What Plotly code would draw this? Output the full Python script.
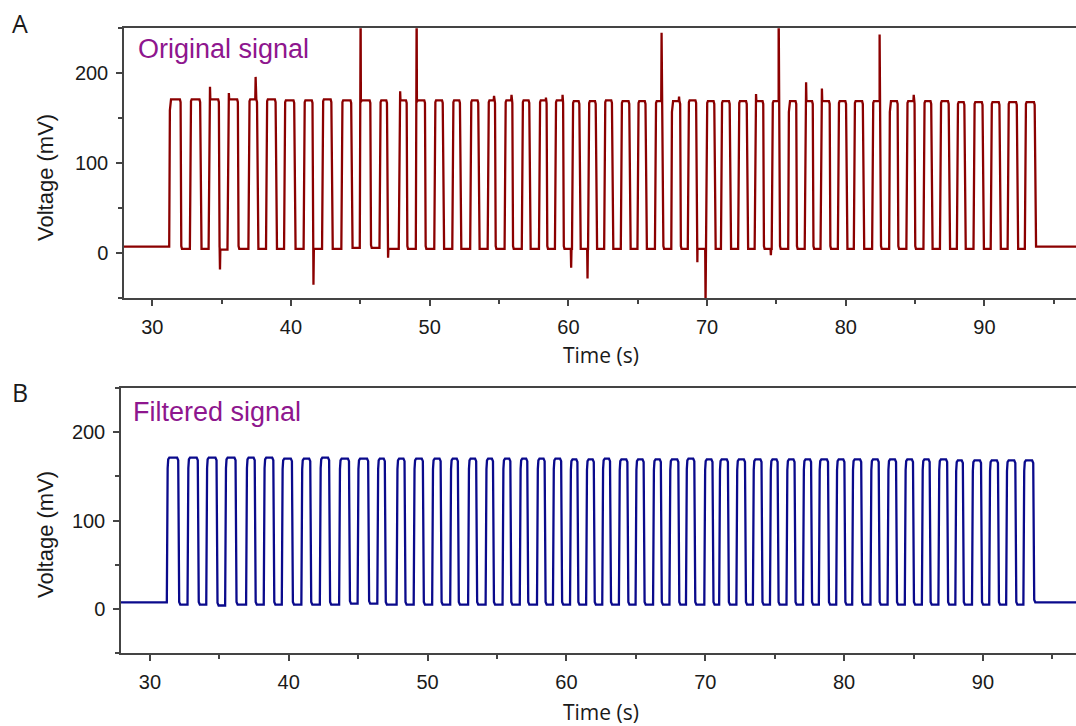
import numpy as np
import plotly.graph_objects as go

# ---------------- data ----------------
# rise / fall times (s) of each pulse
rises = [31.22, 32.71, 34.06, 35.42, 36.93, 38.20, 39.50, 40.91, 42.24, 43.63,
         44.96, 46.38, 47.77, 49.00, 50.33, 51.63, 52.92, 54.18, 55.40, 56.64,
         57.88, 59.03, 60.26, 61.42, 62.58, 63.78, 64.98, 66.24, 67.42, 68.61,
         69.93, 71.00, 72.24, 73.43, 74.66, 75.85, 77.04, 78.18, 79.43, 80.58,
         81.90, 83.13, 84.37, 85.60, 86.79, 88.01, 89.21, 90.45, 91.67, 92.91]
falls = [32.04, 33.45, 34.80, 36.17, 37.55, 38.89, 40.23, 41.55, 42.91, 44.34,
         45.72, 46.92, 48.34, 49.66, 50.94, 52.18, 53.50, 54.71, 55.96, 57.18,
         58.43, 59.62, 60.79, 61.97, 63.14, 64.39, 65.56, 66.80, 68.06, 69.21,
         70.52, 71.63, 72.86, 74.05, 75.21, 76.43, 77.62, 78.84, 80.02, 81.23,
         82.49, 83.74, 84.96, 86.16, 87.42, 88.55, 89.86, 91.08, 92.33, 93.62]
# plateau level of each pulse (mV)
highs = [171, 171, 171, 171, 171, 171, 170, 170, 171, 170,
         170, 170, 170, 170, 170, 170, 170, 170, 170, 170,
         170, 170, 169, 169, 170, 169, 169, 169, 169, 170,
         169, 169, 169, 169, 169, 169, 169, 169, 169, 169,
         169, 169, 169, 169, 169, 168, 168, 168, 168, 168]
# level after each pulse (mV)
lows = [5, 5, 4, 5, 5, 5, 5, 5, 5, 6,
        6, 5, 5, 5, 5, 5, 5, 5, 5, 5,
        5, 5, 5, 5, 5, 5, 5, 5, 5, 5,
        5, 5, 5, 5, 5, 5, 5, 5, 5, 5,
        5, 5, 5, 5, 5, 5, 5, 5, 5, 7.5]
baseline_before = 7.5
t_begin, t_end = 27.0, 100.0

# artefact spikes of the original signal: time (s), peak value (mV)
spike_times = [34.16, 34.88, 35.52, 37.45, 41.62, 45.02, 47.00, 47.87, 49.06,
               54.64, 55.90, 58.38, 59.58, 60.20, 61.38, 66.72, 67.98, 69.30,
               69.89, 73.53, 74.60, 75.16, 77.14, 78.28, 82.44, 84.90]
spike_values = [185, -18, 178, 196, -35, 275, -5, 180, 275,
                175, 176, 173, 176, -16, -28, 245, 174, -10,
                -55, 177, -2, 275, 190, 183, 243, 176]

x_ticks = [30, 40, 50, 60, 70, 80, 90]
y_ticks = [0, 100, 200]


def square_wave(r_edge, f_edge, rnd):
    t = [t_begin]
    v = [baseline_before]
    prev = baseline_before
    for r, f, h, lo in zip(rises, falls, highs, lows):
        t += [r, r + r_edge * 0.6, r + r_edge, r + r_edge + rnd,
              f - rnd, f, f + f_edge, f + f_edge + rnd]
        v += [prev, h - 12, h - 2, h,
              h, h - 3, lo + 3, lo]
        prev = lo
    t.append(t_end)
    v.append(prev)
    return np.array(t), np.array(v, dtype=float)


t_orig, v_orig = square_wave(0.08, 0.05, 0.05)
extra_t, extra_v = [], []
for ts, vs in zip(spike_times, spike_values):
    for dt in (-0.025, 0.025):
        extra_t.append(ts + dt)
        extra_v.append(float(np.interp(ts + dt, t_orig, v_orig)))
    extra_t.append(ts)
    extra_v.append(vs)
all_t = np.concatenate([t_orig, extra_t])
all_v = np.concatenate([v_orig, extra_v])
order = np.argsort(all_t, kind="stable")
t_top, v_top = all_t[order], all_v[order]

t_bot, v_bot = square_wave(0.10, 0.07, 0.08)

# ---------------- figure ----------------
W, H = 1076, 726
RED = "#8B0000"
BLUE = "#0A0A8C"
PURPLE = "#8E168E"
AX = "#444444"
TICKFONT = dict(family="Liberation Sans, Arial", size=20, color="#1a1a1a")

fig = go.Figure()
fig.add_trace(go.Scatter(x=t_top, y=v_top, mode="lines",
                         line=dict(color=RED, width=2.3),
                         xaxis="x", yaxis="y", showlegend=False,
                         hoverinfo="skip"))
fig.add_trace(go.Scatter(x=t_bot, y=v_bot, mode="lines",
                         line=dict(color=BLUE, width=2.3),
                         xaxis="x2", yaxis="y2", showlegend=False,
                         hoverinfo="skip"))


def xax(domain, rng, anchor):
    return dict(domain=domain, range=rng, anchor=anchor,
                tickvals=x_ticks, ticks="outside", ticklen=6, tickwidth=1.5,
                tickcolor=AX, showline=True, linecolor=AX, linewidth=1.5,
                mirror=True, showgrid=False, zeroline=False,
                tickfont=TICKFONT, ticklabelstandoff=4,
                minor=dict(ticks="outside", ticklen=4, tickwidth=1.5,
                           tickcolor=AX, dtick=5, tick0=0, showgrid=False))


def yax(domain, anchor):
    return dict(domain=domain, range=[-50, 250], anchor=anchor,
                tickvals=y_ticks, ticks="outside", ticklen=6, tickwidth=1.5,
                tickcolor=AX, showline=True, linecolor=AX, linewidth=1.5,
                mirror=False, showgrid=False, zeroline=False,
                tickfont=TICKFONT, ticklabelstandoff=4,
                minor=dict(ticks="outside", ticklen=4, tickwidth=1.5,
                           tickcolor=AX, dtick=50, tick0=0, showgrid=False))


fig.update_layout(
    width=W, height=H,
    margin=dict(l=0, r=0, t=0, b=0),
    paper_bgcolor="white", plot_bgcolor="white",
    xaxis=xax([124 / W, 1.0], [27.96, 96.6], "y"),
    yaxis=yax([1 - 298.3 / H, 1 - 28.3 / H], "x"),
    xaxis2=xax([121 / W, 1.0], [27.92, 96.7], "y2"),
    yaxis2=yax([1 - 653.3 / H, 1 - 387.7 / H], "x2"),
)

ann = []


def add_text(text, x, y, font, xanchor="center", yanchor="middle", angle=0):
    ann.append(dict(text=text, x=x / W, y=1 - y / H, xref="paper",
                    yref="paper", showarrow=False, font=font,
                    xanchor=xanchor, yanchor=yanchor, textangle=angle))


LETTER = dict(family="Open Sans", size=25, color="#1a1a1a")
TITLE = dict(family="Liberation Sans, Arial", size=22, color="#1a1a1a")
XTITLE = dict(family="Open Sans", size=21, color="#1a1a1a")
LABEL = dict(family="Liberation Sans, Arial", size=27, color=PURPLE)

add_text("A", 20, 23, LETTER)
add_text("B", 20, 392, LETTER)
add_text("Original signal", 136, 49, LABEL, xanchor="left")
add_text("Filtered signal", 131, 412, LABEL, xanchor="left")
add_text("Voltage (mV)", 45, 178, TITLE, angle=-90)
add_text("Voltage (mV)", 45, 535, TITLE, angle=-90)
add_text("Time (s)", 601, 355, XTITLE)
add_text("Time (s)", 601, 712, XTITLE)
fig.update_layout(annotations=ann)

fig.write_html("out.html")
